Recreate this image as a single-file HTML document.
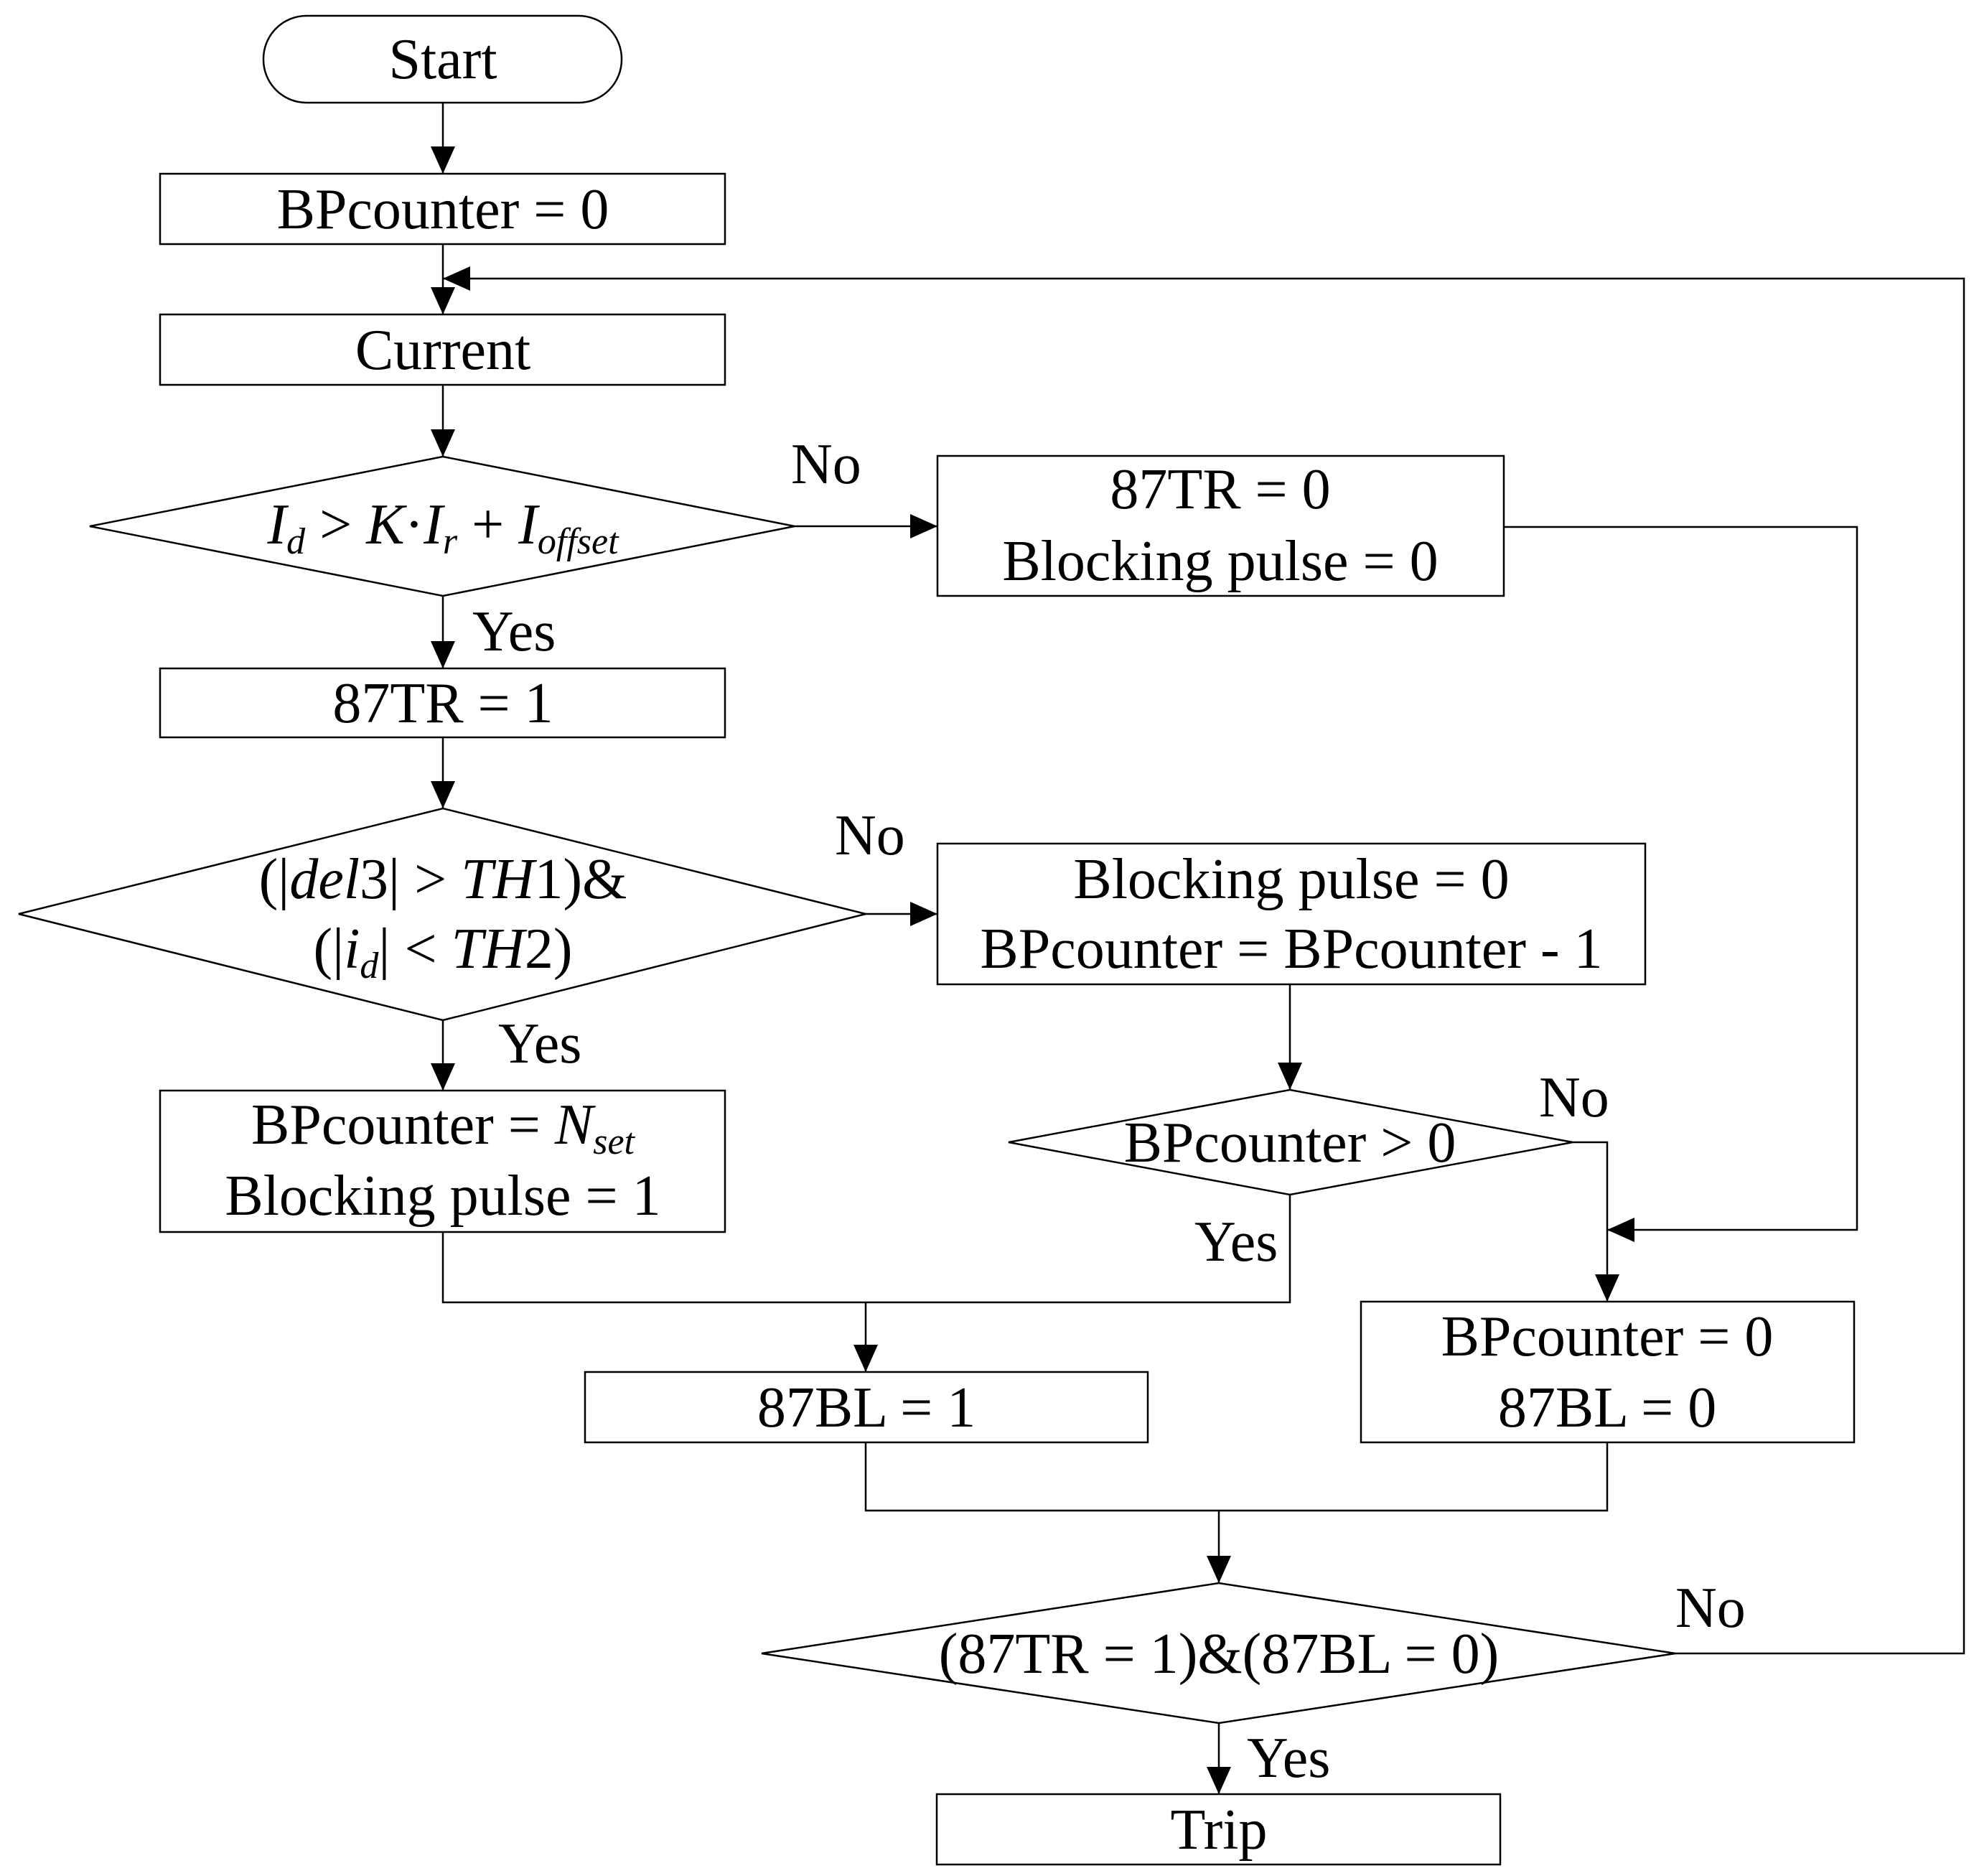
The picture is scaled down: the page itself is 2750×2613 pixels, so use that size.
<!DOCTYPE html>
<html><head><meta charset="utf-8"><style>html,body{margin:0;padding:0;background:#fff}svg{display:block}</style></head>
<body>
<svg width="2750" height="2613" viewBox="0 0 2750 2613" xmlns="http://www.w3.org/2000/svg" font-family="'Liberation Serif', serif" font-size="80" fill="#000">
<defs>
<marker id="a" viewBox="0 0 38 34" refX="38" refY="17" markerWidth="38" markerHeight="34" markerUnits="userSpaceOnUse" orient="auto"><path d="M0,0 L38,17 L0,34 Z" fill="#000"/></marker>
</defs>
<g stroke="#000" stroke-width="2.5" fill="none">
<rect x="367" y="22" width="499" height="121" rx="60" ry="60"/>
<rect x="223" y="242" width="787" height="98"/>
<rect x="223" y="438" width="787" height="98"/>
<polygon points="125,733 617,636 1107,733 617,830"/>
<rect x="1306" y="635" width="789" height="195"/>
<rect x="223" y="931" width="787" height="96"/>
<polygon points="26,1273 617,1126 1206,1273 617,1421"/>
<rect x="1306" y="1175" width="986" height="196"/>
<rect x="223" y="1519" width="787" height="197"/>
<polygon points="1405,1591 1797,1518 2191,1591 1797,1664"/>
<rect x="815" y="1911" width="784" height="98"/>
<rect x="1896" y="1813" width="687" height="196"/>
<polygon points="1061,2303 1698,2205 2334,2303 1698,2400"/>
<rect x="1305" y="2499" width="785" height="98"/>

<line x1="617" y1="143" x2="617" y2="242" marker-end="url(#a)"/>
<line x1="617" y1="340" x2="617" y2="438" marker-end="url(#a)"/>
<line x1="617" y1="536" x2="617" y2="636" marker-end="url(#a)"/>
<line x1="1107" y1="733" x2="1306" y2="733" marker-end="url(#a)"/>
<line x1="617" y1="830" x2="617" y2="931" marker-end="url(#a)"/>
<line x1="617" y1="1027" x2="617" y2="1126" marker-end="url(#a)"/>
<line x1="1206" y1="1273" x2="1306" y2="1273" marker-end="url(#a)"/>
<line x1="617" y1="1421" x2="617" y2="1519" marker-end="url(#a)"/>
<line x1="1797" y1="1371" x2="1797" y2="1518" marker-end="url(#a)"/>
<polyline points="617,1716 617,1814 1797,1814 1797,1664"/>
<line x1="1206" y1="1814" x2="1206" y2="1911" marker-end="url(#a)"/>
<polyline points="2191,1591 2239,1591 2239,1813" marker-end="url(#a)"/>
<polyline points="2095,734 2587,734 2587,1713 2239,1713" marker-end="url(#a)"/>
<polyline points="1206,2009 1206,2104 2239,2104 2239,2009"/>
<line x1="1698" y1="2104" x2="1698" y2="2205" marker-end="url(#a)"/>
<line x1="1698" y1="2400" x2="1698" y2="2499" marker-end="url(#a)"/>
<polyline points="2334,2303 2736,2303 2736,388 617,388" marker-end="url(#a)"/>
</g>
<g text-anchor="middle">
<text x="617" y="109">Start</text>
<text x="617" y="318">BPcounter = 0</text>
<text x="617" y="514">Current</text>
<text x="617" y="757"><tspan font-style="italic">I</tspan><tspan font-style="italic" font-size="52" dy="14">d</tspan><tspan dy="-14"> &gt; </tspan><tspan font-style="italic">K</tspan>·<tspan font-style="italic">I</tspan><tspan font-style="italic" font-size="52" dy="14">r</tspan><tspan dy="-14"> + </tspan><tspan font-style="italic">I</tspan><tspan font-style="italic" font-size="52" dy="14">offset</tspan></text>
<text x="1700" y="708">87TR = 0</text>
<text x="1700" y="808">Blocking pulse = 0</text>
<text x="617" y="1006">87TR = 1</text>
<text x="617" y="1251">(|<tspan font-style="italic">del</tspan>3| &gt; <tspan font-style="italic">TH</tspan>1)&amp;</text>
<text x="617" y="1348">(|<tspan font-style="italic">i</tspan><tspan font-style="italic" font-size="52" dy="14">d</tspan><tspan dy="-14">| &lt; </tspan><tspan font-style="italic">TH</tspan>2)</text>
<text x="1799" y="1251">Blocking pulse = 0</text>
<text x="1799" y="1348">BPcounter = BPcounter - 1</text>
<text x="617" y="1593">BPcounter = <tspan font-style="italic">N</tspan><tspan font-style="italic" font-size="52" dy="14">set</tspan></text>
<text x="617" y="1692">Blocking pulse = 1</text>
<text x="1797" y="1618">BPcounter &gt; 0</text>
<text x="1207" y="1987">87BL = 1</text>
<text x="2239" y="1888">BPcounter = 0</text>
<text x="2239" y="1987">87BL = 0</text>
<text x="1698" y="2330">(87TR = 1)&amp;(87BL = 0)</text>
<text x="1698" y="2575">Trip</text>
</g>
<g>
<text x="1102" y="673">No</text>
<text x="658" y="906">Yes</text>
<text x="1163" y="1190">No</text>
<text x="694" y="1480">Yes</text>
<text x="2144" y="1555">No</text>
<text x="1664" y="1756">Yes</text>
<text x="2334" y="2266">No</text>
<text x="1737" y="2475">Yes</text>
</g>
</svg>
</body></html>
